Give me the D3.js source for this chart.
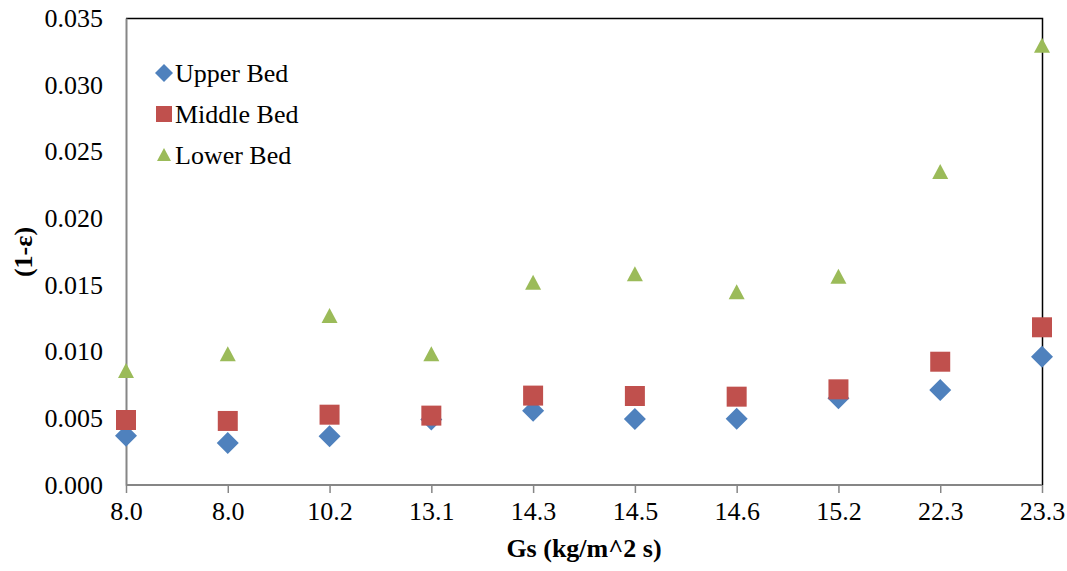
<!DOCTYPE html>
<html>
<head>
<meta charset="utf-8">
<script src="https://d3js.org/d3.v7.min.js"></script>
<style>
  body { margin: 0; background: #fff; }
  text { font-family: "Liberation Serif", "Times New Roman", serif; fill: #000; }
</style>
</head>
<body>
<svg id="chart" width="1067" height="571"></svg>
<script>
// categories on the x axis (Gs, kg/m^2 s)
var categories = ["8.0", "8.0", "10.2", "13.1", "14.3", "14.5", "14.6", "15.2", "22.3", "23.3"];

// (1-eps) values for each bed
var upperBed  = [0.0037, 0.00315, 0.00365, 0.0049, 0.00557, 0.00495, 0.00497, 0.0065, 0.00712, 0.00962];
var middleBed = [0.00487, 0.0048, 0.00527, 0.0052, 0.0067, 0.00667, 0.00662, 0.00717, 0.00924, 0.01182];
var lowerBed  = [0.00854, 0.0098, 0.01266, 0.0098, 0.01516, 0.0158, 0.01444, 0.01561, 0.02346, 0.03292];

var yTicks = [0, 0.005, 0.01, 0.015, 0.02, 0.025, 0.03, 0.035];

var series = [
  { name: "Upper Bed", values: upperBed, color: "#4F81BD", symbol: "diamond" },
  { name: "Middle Bed", values: middleBed, color: "#C0504D", symbol: "square" },
  { name: "Lower Bed", values: lowerBed, color: "#9BBB59", symbol: "triangle" }
];

var margin = { left: 126, right: 25, top: 18, bottom: 86 };
var width = 1067, height = 571;

var svg = d3.select("#chart");

var x = d3.scalePoint()
  .domain(d3.range(categories.length))
  .range([margin.left, width - margin.right])
  .padding(0);

var y = d3.scaleLinear()
  .domain([0, 0.035])
  .range([height - margin.bottom, margin.top]);

// top and right border of the plot area
svg.append("path")
  .attr("d", "M" + margin.left + "," + (margin.top + 0.5) + "H" + (width - margin.right + 0.5) + "V" + (height - margin.bottom))
  .attr("fill", "none")
  .attr("stroke", "#000")
  .attr("stroke-width", 1.5);

// x axis
var xAxis = svg.append("g")
  .attr("transform", "translate(0," + (height - margin.bottom) + ")")
  .call(d3.axisBottom(x).tickSize(8).tickFormat(function(i) { return categories[i]; }));
xAxis.select(".domain").attr("stroke", "#868686").attr("stroke-width", 2).attr("d", "M" + margin.left + ",0H" + (width - margin.right));
xAxis.selectAll(".tick line").attr("stroke", "#868686").attr("stroke-width", 1.5);
xAxis.selectAll(".tick text")
  .attr("y", 17)
  .attr("font-size", 26)
  .attr("font-family", "Liberation Serif");

// y axis
var yAxis = svg.append("g")
  .attr("transform", "translate(" + margin.left + ",0)")
  .call(d3.axisLeft(y).tickValues(yTicks).tickSize(0).tickFormat(d3.format(".3f")));
yAxis.select(".domain").attr("stroke", "#868686").attr("stroke-width", 2);
yAxis.selectAll(".tick text")
  .attr("x", -23)
  .attr("font-size", 26)
  .attr("font-family", "Liberation Serif");

// axis titles
svg.append("text")
  .attr("x", (margin.left + width - margin.right) / 2)
  .attr("y", 557)
  .attr("text-anchor", "middle")
  .attr("font-size", 26)
  .attr("font-weight", "bold")
  .text("Gs (kg/m^2 s)");

svg.append("text")
  .attr("transform", "translate(32,252) rotate(-90)")
  .attr("text-anchor", "middle")
  .attr("font-size", 26)
  .attr("font-weight", "bold")
  .text("(1-ε)");

function shape(sym) {
  if (sym === "diamond") return "M0,-11L11,0L0,11L-11,0Z";
  if (sym === "square") return "M-10,-10H10V10H-10Z";
  return "M0,-8L8,7H-8Z";
}

// markers
series.forEach(function(s) {
  svg.append("g").selectAll("path")
    .data(s.values)
    .enter().append("path")
    .attr("transform", function(d, i) { return "translate(" + x(i) + "," + y(d) + ")"; })
    .attr("d", shape(s.symbol))
    .attr("fill", s.color);
});

// legend
var legend = svg.append("g").attr("transform", "translate(164,73)");
series.forEach(function(s, i) {
  var row = legend.append("g").attr("transform", "translate(0," + (i * 41) + ")");
  row.append("path")
    .attr("d", s.symbol === "diamond" ? "M0,-9L9,0L0,9L-9,0Z" : s.symbol === "square" ? "M-8,-8H8V8H-8Z" : "M0,-7L7,6H-7Z")
    .attr("fill", s.color);
  row.append("text")
    .attr("x", 11)
    .attr("y", 9)
    .attr("font-size", 26)
    .text(s.name);
});
</script>
</body>
</html>
